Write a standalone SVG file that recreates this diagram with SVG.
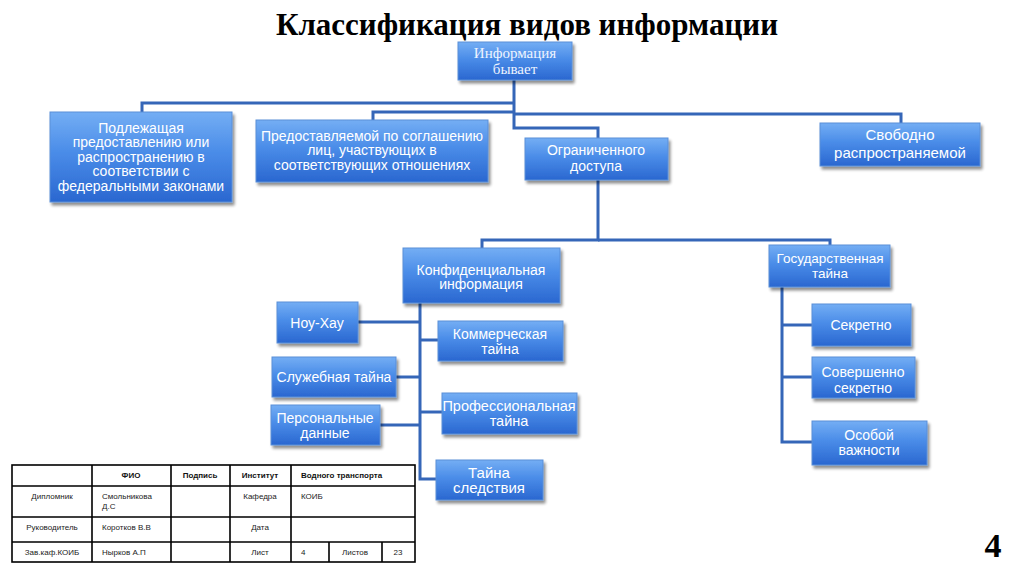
<svg xmlns="http://www.w3.org/2000/svg" width="1024" height="574" viewBox="0 0 1024 574">
<defs>
<linearGradient id="g" x1="0" y1="0" x2="0" y2="1">
<stop offset="0" stop-color="#74aef4"/>
<stop offset="0.45" stop-color="#4a8ce8"/>
<stop offset="1" stop-color="#2a67d0"/>
</linearGradient>
<filter id="sh" x="-10%" y="-10%" width="125%" height="135%">
<feGaussianBlur in="SourceAlpha" stdDeviation="1.6"/>
<feOffset dx="2" dy="3" result="b"/>
<feComponentTransfer><feFuncA type="linear" slope="0.45"/></feComponentTransfer>
<feMerge><feMergeNode/><feMergeNode in="SourceGraphic"/></feMerge>
</filter>
</defs>
<style>
.box{fill:url(#g);stroke:#5a8fd8;stroke-width:1;filter:url(#sh)}
.t{font-family:"Liberation Sans",Arial,sans-serif;font-size:14px;fill:#ffffff;text-anchor:middle}
.ts{font-family:"Liberation Serif","Times New Roman",serif;font-size:15px;fill:#eef4ff;text-anchor:middle}
.c{fill:none;stroke:#3566b8;stroke-width:3}
.tbl{fill:none;stroke:#000;stroke-width:1.6}
.tx{font-family:"Liberation Sans",Arial,sans-serif;font-size:8px;fill:#222}
.tb{font-family:"Liberation Sans",Arial,sans-serif;font-size:8px;font-weight:bold;fill:#111}
</style>
<rect width="1024" height="574" fill="#ffffff"/>
<text x="527" y="35" font-family="'Liberation Serif','Times New Roman',serif" font-size="31" font-weight="bold" text-anchor="middle" fill="#000">Классификация видов информации</text>

<g id="connectors">
<path class="c" d="M514 80 V128 H598 V138"/>
<path class="c" d="M514 103 H142 V112"/>
<path class="c" d="M514 112 H373 V120"/>
<path class="c" d="M514 114 H901 V123"/>
<path class="c" d="M598 180 V240 H482 V248"/>
<path class="c" d="M598 240 H830 V245"/>
<path class="c" d="M420 303 V479 H436"/>
<path class="c" d="M358 322 H420"/>
<path class="c" d="M420 340 H438"/>
<path class="c" d="M396 377 H420"/>
<path class="c" d="M420 412 H442"/>
<path class="c" d="M380 425 H420"/>
<path class="c" d="M782 287 V442 H812"/>
<path class="c" d="M782 325 H812"/>
<path class="c" d="M782 377 H812"/>
</g>

<g id="n1"><rect class="box" x="458" y="42" width="114" height="38"/><text class="ts" x="515" y="58">Информация</text><text class="ts" x="515" y="74">бывает</text></g>
<g id="n2"><rect class="box" x="50" y="112" width="182" height="90"/><text class="t" x="141" y="133">Подлежащая</text><text class="t" x="141" y="147">предоставлению или</text><text class="t" x="141" y="162">распространению в</text><text class="t" x="141" y="176">соответствии с</text><text class="t" x="141" y="191">федеральными законами</text></g>
<g id="n3"><rect class="box" x="256" y="120" width="232" height="62"/><text class="t" x="372" y="141">Предоставляемой по соглашению</text><text class="t" x="372" y="155">лиц, участвующих в</text><text class="t" x="372" y="170">соответствующих отношениях</text></g>
<g id="n4"><rect class="box" x="525" y="138" width="143" height="42"/><text class="t" x="596" y="155">Ограниченного</text><text class="t" x="596" y="171">доступа</text></g>
<g id="n5"><rect class="box" x="820" y="123" width="160" height="43"/><text class="t" x="900" y="140" style="font-size:15px">Свободно</text><text class="t" x="900" y="158" style="font-size:15px">распространяемой</text></g>
<g id="n6"><rect class="box" x="403" y="248" width="157" height="55"/><text class="t" x="481" y="275">Конфиденциальная</text><text class="t" x="481" y="289">информация</text></g>
<g id="n7"><rect class="box" x="769" y="245" width="121" height="42"/><text class="t" x="830" y="263" style="font-size:13.5px">Государственная</text><text class="t" x="830" y="278" style="font-size:13.5px">тайна</text></g>
<g id="n8"><rect class="box" x="277" y="302" width="81" height="41"/><text class="t" x="317" y="328">Ноу-Хау</text></g>
<g id="n9"><rect class="box" x="438" y="321" width="125" height="40"/><text class="t" x="500" y="339">Коммерческая</text><text class="t" x="500" y="354">тайна</text></g>
<g id="n10"><rect class="box" x="272" y="357" width="124" height="40"/><text class="t" x="334" y="382">Служебная тайна</text></g>
<g id="n11"><rect class="box" x="442" y="393" width="135" height="41"/><text class="t" x="509" y="411" style="font-size:14.5px">Профессиональная</text><text class="t" x="509" y="426" style="font-size:14.5px">тайна</text></g>
<g id="n12"><rect class="box" x="271" y="405" width="109" height="40"/><text class="t" x="325" y="423">Персональные</text><text class="t" x="325" y="438">данные</text></g>
<g id="n13"><rect class="box" x="436" y="460" width="107" height="40"/><text class="t" x="489" y="478" style="font-size:15px">Тайна</text><text class="t" x="489" y="493" style="font-size:15px">следствия</text></g>
<g id="n14"><rect class="box" x="812" y="304" width="99" height="42"/><text class="t" x="861" y="330">Секретно</text></g>
<g id="n15"><rect class="box" x="812" y="357" width="103" height="41"/><text class="t" x="863" y="377">Совершенно</text><text class="t" x="863" y="393">секретно</text></g>
<g id="n16"><rect class="box" x="812" y="421" width="115" height="44"/><text class="t" x="869" y="440">Особой</text><text class="t" x="869" y="455">важности</text></g>

<g id="table">
<rect class="tbl" x="12" y="465" width="403" height="97"/>
<path class="tbl" d="M12 486 H415 M12 517 H415 M12 542 H415 M92 465 V562 M171 465 V562 M230 465 V562 M291 465 V562 M329 542 V562 M382 542 V562"/>
<text class="tb" x="131" y="478" text-anchor="middle">ФИО</text>
<text class="tb" x="200" y="478" text-anchor="middle">Подпись</text>
<text class="tb" x="260" y="478" text-anchor="middle">Институт</text>
<text class="tb" x="301" y="478">Водного транспорта</text>
<text class="tx" x="52" y="499" text-anchor="middle">Дипломник</text>
<text class="tx" x="102" y="499">Смольникова</text>
<text class="tx" x="102" y="509">Д.С</text>
<text class="tx" x="260" y="499" text-anchor="middle">Кафедра</text>
<text class="tx" x="301" y="499">КОИБ</text>
<text class="tx" x="52" y="530" text-anchor="middle">Руководитель</text>
<text class="tx" x="102" y="530">Коротков В.В</text>
<text class="tx" x="260" y="530" text-anchor="middle">Дата</text>
<text class="tx" x="52" y="555" text-anchor="middle">Зав.каф.КОИБ</text>
<text class="tx" x="102" y="555">Нырков А.П</text>
<text class="tx" x="260" y="555" text-anchor="middle">Лист</text>
<text class="tx" x="301" y="555">4</text>
<text class="tx" x="355" y="555" text-anchor="middle">Листов</text>
<text class="tx" x="398" y="555" text-anchor="middle">23</text>
</g>

<text x="993" y="557" font-family="'Liberation Serif','Times New Roman',serif" font-size="34" font-weight="bold" text-anchor="middle" fill="#000">4</text>
</svg>
